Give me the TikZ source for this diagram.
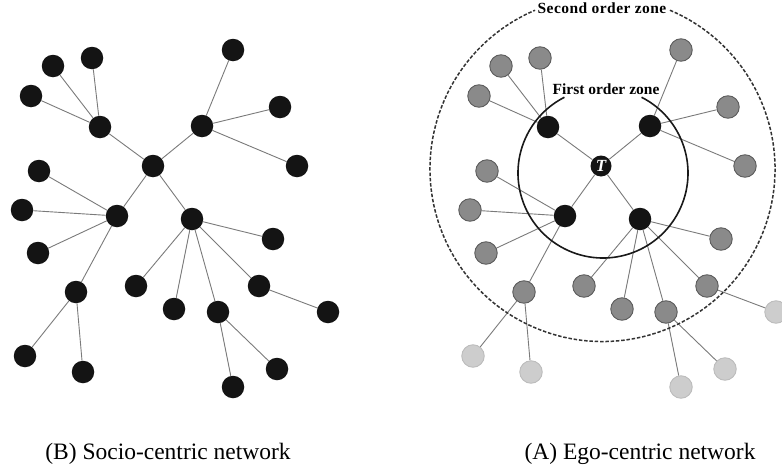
\documentclass[tikz,border=0pt]{standalone}
\usepackage{fontspec}
\setmainfont{Liberation Serif}
\usetikzlibrary{backgrounds}
\pgfdeclarelayer{bg}
\pgfsetlayers{bg,main}
\definecolor{inkblack}{HTML}{141414}
\definecolor{midgray}{HTML}{8A8A8A}
\definecolor{midedge}{HTML}{5C5C5C}
\definecolor{palegray}{HTML}{CDCDCD}
\definecolor{paleedge}{HTML}{BCBCBC}
\definecolor{tiegray}{HTML}{7A7A7A}
\tikzset{
  actor/.style = {circle, inner sep = 0, minimum size = 22.5pt},
  hub/.style   = {actor, fill = inkblack},
  mid/.style   = {actor, fill = midgray, draw = midedge, line width = .9pt},
  pale/.style  = {actor, fill = palegray, draw = paleedge, line width = .9pt},
  ego/.style   = {actor, fill = inkblack, minimum size = 21pt,
                  text = white, font = \fontsize{17}{17}\selectfont\bfseries\itshape},
  tie/.style   = {draw = tiegray, line width = .9pt},
  zonelabel/.style = {anchor = base, inner sep = 0,
                      font = \fontsize{15.5}{16}\selectfont\bfseries},
  caption/.style   = {anchor = base, inner sep = 0,
                      font = \fontsize{23.5}{28}\selectfont},
  pics/net/.style n args = {5}{
    code = {
      % centre actor
      \node[#2] (#1-c) at (153,166) {#5};
      % first order
      \foreach \n/\x/\y in {a/100/127, b/202/126, l/117/216, r/192/219}
        \node[hub] (#1-\n) at (\x,\y) {};
      % second order
      \foreach \n/\x/\y in {a1/53/66, a2/92/58, a3/31/96,
                            b1/233/50, b2/280/107, b3/297/166,
                            l1/39/171, l2/22/210, l3/38/253, l4/76/292,
                            r1/273/239, r2/136/286, r3/174/309,
                            r4/218/312, r5/259/286}
        \node[#3] (#1-\n) at (\x,\y) {};
      % outside
      \foreach \n/\x/\y in {l5/25/356, l6/83/372, r6/328/312,
                            r7/233/387, r8/277/369}
        \node[#4] (#1-\n) at (\x,\y) {};
      % ties
      \begin{pgfonlayer}{bg}
        \foreach \s/\t in {c/a, c/b, c/l, c/r,
                           a/a1, a/a2, a/a3, b/b1, b/b2, b/b3,
                           l/l1, l/l2, l/l3, l/l4, l4/l5, l4/l6,
                           r/r1, r/r2, r/r3, r/r4, r/r5,
                           r5/r6, r4/r7, r4/r8}
          \draw[tie] (#1-\s) -- (#1-\t);
      \end{pgfonlayer}
    },
  },
}

\begin{document}
\begin{tikzpicture}[x = 1pt, y = -1pt]
  \useasboundingbox (0,0) rectangle (782,471);

  \pic at (0,0) {net={soc}{hub}{hub}{hub}{}};
  \pic at (448,0) {net={ego}{ego}{mid}{pale}{T}};

  % zones
  \draw[line width = 1.5pt, draw = black!80, dash pattern = on 3.5pt off 1.8pt]
    (602.5,169) ++(-67:172.5) arc[start angle = -67, end angle = 247, radius = 172.5];
  \draw[line width = 1.6pt, draw = black!90]
    (603,173) ++(-63:85) arc[start angle = -63, end angle = 243, radius = 85];
  \node[zonelabel] (second) at (602,13) {\addfontfeatures{LetterSpace=3}Second order zone};
  \node[zonelabel] (first) at (606,94) {First order zone};

  \node[caption] (socio) at (168,459) {(B) Socio-centric network};
  \node[caption] (egocap) at (640,459) {(A) Ego-centric network};
\end{tikzpicture}
\end{document}
